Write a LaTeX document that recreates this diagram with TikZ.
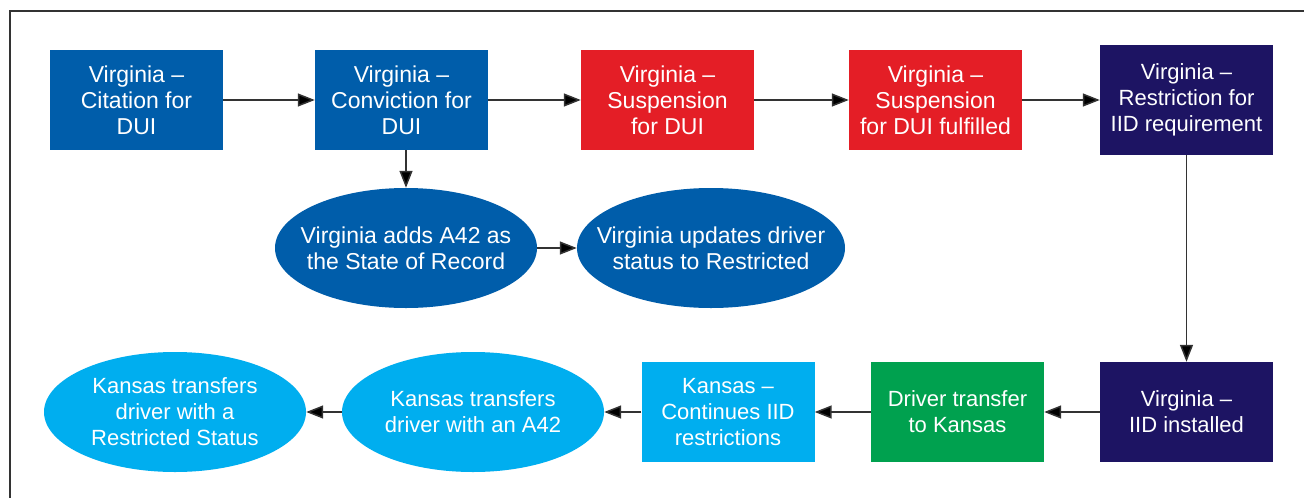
\documentclass[tikz,border=0pt]{standalone}
\usepackage{fontspec}
\setmainfont{Liberation Sans}
\usetikzlibrary{shapes.geometric,arrows.meta}
\definecolor{vablue}{HTML}{005DAA}
\definecolor{vared}{HTML}{E41E26}
\definecolor{vanavy}{HTML}{1D1463}
\definecolor{kslight}{HTML}{00AEEF}
\definecolor{ksgreen}{HTML}{00A14F}
\tikzset{
  boxnode/.style={rectangle, minimum width=173pt, minimum height=100pt, inner sep=0pt, text=white, align=center, font=\fontsize{23}{26}\selectfont},
  lowbox/.style={boxnode, font=\fontsize{22}{26}\selectfont},
  ellnode/.style={ellipse, minimum width=262pt, minimum height=120pt, inner sep=0pt},
  elltext/.style={inner sep=0pt, text=white, align=center, font=\fontsize{23}{26}\selectfont},
  lowtext/.style={elltext, font=\fontsize{22}{26}\selectfont},
  flow/.style={draw=black!80, line width=1.5pt, -{Triangle[length=17pt,width=13pt,fill=black]}},
}
\begin{document}
\begin{tikzpicture}[x=1pt,y=-1pt]
\useasboundingbox (0,0) rectangle (1304,498);
\fill[white] (0,0) rectangle (1304,498);
\draw[black!80, line width=1.5pt] (10,498) -- (10,11) -- (1304,11);
% top row
\node[boxnode, fill=vablue] (b1) at (136.5,100) {Virginia –\\Citation for\\DUI};
\node[boxnode, fill=vablue] (b2) at (401.5,100) {Virginia –\\Conviction for\\DUI};
\node[boxnode, fill=vared] (b3) at (667.5,100) {Virginia –\\Suspension\\for DUI};
\node[boxnode, fill=vared] (b4) at (935.5,100) {Virginia –\\Suspension\\for DUI fulfilled};
\node[boxnode, fill=vanavy, minimum height=110pt, font=\fontsize{22}{26}\selectfont] (b5) at (1186.5,100) {Virginia –\\Restriction for\\IID requirement};
% middle ellipses
\node[ellnode, fill=vablue] (e1) at (406,248) {};
\node[elltext] (e1t) at (e1.center) {Virginia adds A42 as\\the State of Record};
\node[ellnode, fill=vablue, minimum width=268pt] (e2) at (711,248) {};
\node[elltext] (e2t) at (e2.center) {Virginia updates driver\\status to Restricted};
% bottom row
\node[lowbox, fill=vanavy] (c1) at (1186.5,412) {Virginia –\\IID installed};
\node[lowbox, fill=ksgreen] (c2) at (957.5,412) {Driver transfer\\to Kansas};
\node[lowbox, fill=kslight] (c3) at (728,412) {Kansas –\\Continues IID\\restrictions};
\node[ellnode, fill=kslight] (d1) at (473,412) {};
\node[lowtext] (d1t) at (d1.center) {Kansas transfers\\driver with an A42};
\node[ellnode, fill=kslight] (d2) at (175,412) {};
\node[lowtext] (d2t) at (d2.center) {Kansas transfers\\driver with a\\Restricted Status};
% connectors
\draw[flow] (b1) -- (b2);
\draw[flow] (b2) -- (b3);
\draw[flow] (b3) -- (b4);
\draw[flow] (b4) -- (b5);
\draw[flow] (e1.north |- b2.south) -- (e1.north);
\draw[flow] (e1) -- (e2);
\draw[flow] (b5) -- (c1);
\draw[flow] (c1) -- (c2);
\draw[flow] (c2) -- (c3);
\draw[flow] (c3) -- (d1);
\draw[flow] (d1) -- (d2);
\end{tikzpicture}
\end{document}
